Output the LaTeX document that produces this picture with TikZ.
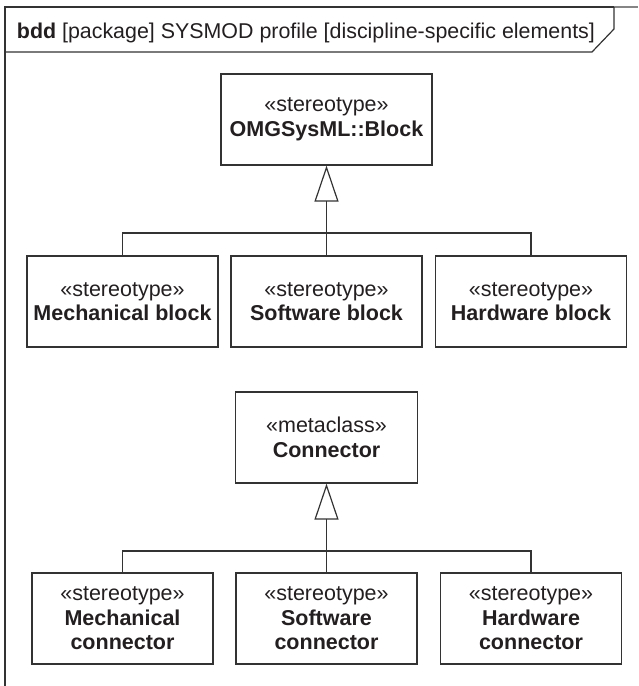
\documentclass[tikz,border=0pt]{standalone}
\usepackage{fontspec}
\setmainfont{Liberation Sans}
\usepackage{xcolor}
\usepackage{tikz}
\usetikzlibrary{arrows.meta}

\definecolor{umlline}{HTML}{333333}
\definecolor{umltext}{HTML}{231F20}

\begin{document}
\begin{tikzpicture}[x=1pt, y=-1pt, line width=1.2pt,
  every node/.style={text=umltext},
  stbox/.style={draw=umlline, line width=1.2pt, minimum height=91pt, inner sep=0pt, align=center, font=\fontsize{21.5}{24.5}\selectfont},
  gen/.style={draw=umlline, -{Triangle[open, length=36pt, width=24pt, line width=1.2pt]}},
  tree/.style={draw=umlline}]
\useasboundingbox (0,0) rectangle (638,686);
% frame and heading
\draw[umlline] (5,686) -- (5,7) -- (614,7);
\draw[umlline!60] (614,7) -- (638,7);
\draw[umlline] (5,52) -- (592,52) -- (614,29) -- (614,7);
\node[anchor=base west, font=\fontsize{21.4}{24}\selectfont] (title) at (13,38) {\textbf{bdd} [package] SYSMOD profile [discipline-specific elements]};
% blocks
\node[stbox, minimum width=211pt] (omg) at (326.5,119.5) {«stereotype»\\\textbf{OMGSysML::Block}};
\node[stbox, minimum width=191pt] (mech) at (122.5,301.5) {«stereotype»\\\textbf{Mechanical block}};
\node[stbox, minimum width=191pt] (soft) at (326.5,301.5) {«stereotype»\\\textbf{Software block}};
\node[stbox, minimum width=191pt] (hard) at (531,301.5) {«stereotype»\\\textbf{Hardware block}};
\coordinate (bar1) at (326.5,233);
\draw[gen] (soft.north) -- (omg.south);
\draw[tree] (mech.north) |- (bar1) -| (hard.north);
% connectors
\node[stbox, minimum width=182pt] (conn) at (326.5,437.5) {«metaclass»\\\textbf{Connector}};
\node[stbox, minimum width=181pt] (mechc) at (122.5,618.5) {«stereotype»\\\textbf{Mechanical}\\\textbf{connector}};
\node[stbox, minimum width=181pt] (softc) at (326.5,618.5) {«stereotype»\\\textbf{Software}\\\textbf{connector}};
\node[stbox, minimum width=181pt] (hardc) at (531,618.5) {«stereotype»\\\textbf{Hardware}\\\textbf{connector}};
\coordinate (bar2) at (326.5,551);
\draw[gen] (softc.north) -- (conn.south);
\draw[tree] (mechc.north) |- (bar2) -| (hardc.north);
\end{tikzpicture}
\end{document}
